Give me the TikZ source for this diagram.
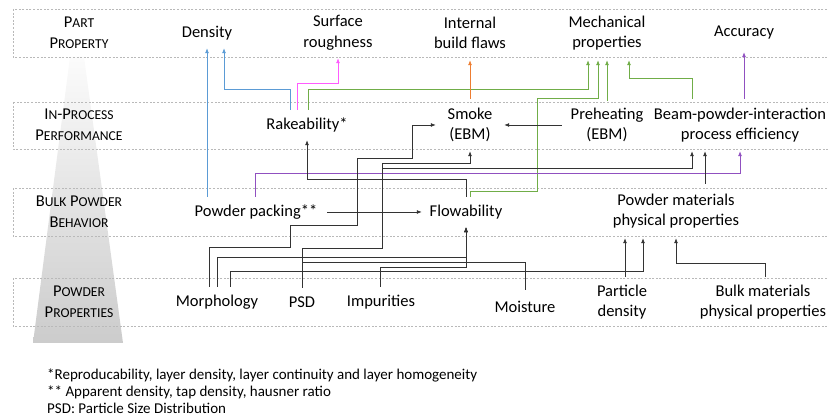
\documentclass[tikz,border=0pt]{standalone}
\usepackage{fontspec}
\setmainfont{Carlito}
\usetikzlibrary{arrows.meta}
\definecolor{lineblue}{HTML}{5B9BD5}
\definecolor{linepink}{HTML}{FF5CFF}
\definecolor{linegreen}{HTML}{70AD47}
\definecolor{lineorange}{HTML}{ED7D31}
\definecolor{linepurple}{HTML}{9050C0}
\definecolor{linedark}{HTML}{333333}
\newcommand\bandsc[1]{{\fontsize{13.6}{20.5}\selectfont #1}}
\begin{document}
\begin{tikzpicture}[x=1pt,y=1pt,
  every node/.style={inner sep=0pt, align=center, font=\fontsize{16.5}{20.5}\selectfont},
  band/.style={draw=gray!55, dash pattern=on 2pt off 1.6pt, line width=0.6pt},
  conn/.style={draw=linedark, line width=0.8pt, -{Latex[length=5pt,width=4pt]}},
  blueln/.style={conn, draw=lineblue},
  pinkln/.style={conn, draw=linepink},
  greenln/.style={conn, draw=linegreen},
  orangeln/.style={conn, draw=lineorange},
  purpleln/.style={conn, draw=linepurple}]
\useasboundingbox (0,0) rectangle (828,-419);
\clip (0,0) rectangle (828,-419);
\shade [top color=gray!3, bottom color=gray!40] (70,-57) -- (84,-57) -- (123,-343) -- (33,-343) -- cycle;
\draw [band] (13,-9) rectangle (840,-57);
\draw [band] (13,-102) rectangle (840,-149);
\draw [band] (13,-188) rectangle (840,-236);
\draw [band] (13,-278) rectangle (840,-326);
\node (partlbl) at (79,-33) {P\bandsc{ART}\\P\bandsc{ROPERTY}};
\node (proclbl) at (79,-125) {I\bandsc{N}-P\bandsc{ROCESS}\\P\bandsc{ERFORMANCE}};
\node (bulklbl) at (79,-212) {B\bandsc{ULK} P\bandsc{OWDER}\\B\bandsc{EHAVIOR}};
\node (powdlbl) at (79,-302) {P\bandsc{OWDER}\\P\bandsc{ROPERTIES}};
\node [minimum height=30] (density) at (207,-33) {Density};
\node [minimum height=50] (surface) at (338,-33) {Surface\\roughness};
\node [minimum height=54] (flaws) at (470,-33) {Internal\\build flaws};
\node [minimum height=54] (mech) at (607,-33) {Mechanical\\properties};
\node [minimum height=38] (accuracy) at (744,-33) {Accuracy};
\node [minimum height=30] (rake) at (307,-125) {Rakeability*};
\node [minimum height=52, minimum width=68] (smoke) at (470,-125) {Smoke\\(EBM)};
\node [minimum height=48, minimum width=90] (preheat) at (607,-125) {Preheating\\(EBM)};
\node [minimum height=52] (beam) at (740,-125) {Beam-powder-interaction\\process efficiency};
\node [minimum height=30, minimum width=142] (packing) at (256,-212) {Powder packing**};
\node [minimum height=30, minimum width=88] (flow) at (466,-212) {Flowability};
\node [minimum height=54] (pmat) at (676,-211) {Powder materials\\physical properties};
\node [minimum height=30] (morph) at (217,-302) {Morphology};
\node [minimum height=28] (psd) at (302,-302) {PSD};
\node [minimum height=30] (impur) at (381,-302) {Impurities};
\node [minimum height=34] (moist) at (525,-307) {Moisture};
\node [minimum height=50] (pdens) at (622,-302) {Particle\\density};
\node [minimum height=50] (bulkmat) at (763,-302) {Bulk materials\\physical properties};
\node [anchor=west, align=left, font=\fontsize{15}{17}\selectfont] (notes) at (47,-391) {*Reproducability, layer density, layer continuity and layer homogeneity\\** Apparent density, tap density, hausner ratio\\PSD: Particle Size Distribution};
\draw [blueln] (packing.north -| density.south) -- (density.south);
\draw [blueln] ([xshift=-17pt]rake.north) -- ++(0,20) -| ([xshift=17pt]density.south);
\draw [pinkln] ([xshift=-10pt]rake.north) -- ++(0,26) -| (surface.south);
\draw [greenln] ([xshift=1pt]rake.north) -- ++(0,20) -| ([xshift=-19pt]mech.south);
\draw [greenln] ([xshift=4pt]flow.north) -- ++(0,5) -| (537,-98) -| ([xshift=-9pt]mech.south);
\draw [greenln] (preheat.north) -- (preheat.north |- mech.south);
\draw [greenln] ([xshift=-48pt]beam.north) -- ++(0,20) -| ([xshift=22pt]mech.south);
\draw [orangeln] (smoke.north) -- (smoke.north |- flaws.south);
\draw [purpleln] (beam.north -| accuracy.south) -- (accuracy.south);
\draw [purpleln] ([xshift=-1pt]packing.north) -- ++(0,23) -| (beam.south);
\draw [conn] (preheat.west) -- (smoke.east);
\draw [conn] (packing.east) -- (flow.west);
\draw [conn] (flow.north) -- ++(0,17) -| (rake.south);
\draw [conn] ([xshift=-8pt]morph.north) |- (290,-247) |- (357,-225) |- (412,-158) |- (smoke.west);
\draw [conn] (morph.north) -- ++(0,29) -| (flow.south);
\draw [conn] ([xshift=13pt]morph.north) -- ++(0,15) -| ([xshift=-33pt]pmat.south);
\draw [conn] (psd.north) |- (382,-248) -- (382,-163) -| (smoke.south);
\draw [conn] (psd.north) |- (382,-248) -- (382,-168) -| ([xshift=-48pt]beam.south);
\draw [conn] (psd.north) -- ++(0,25) -| (flow.south);
\draw [conn] ([xshift=-1pt]impur.north) -- ++(0,19) -| (flow.south);
\draw [conn] (moist.north) -- ++(0,27) -| (flow.south);
\draw [conn] ([xshift=3pt]pdens.north) -- ([xshift=3pt]pdens.north |- pmat.south);
\draw [conn] ([xshift=2pt]bulkmat.north) -- ++(0,13) -| (pmat.south);
\draw [conn] ([xshift=29pt]pmat.north) -- ([xshift=-35pt]beam.south);
\end{tikzpicture}
\end{document}
